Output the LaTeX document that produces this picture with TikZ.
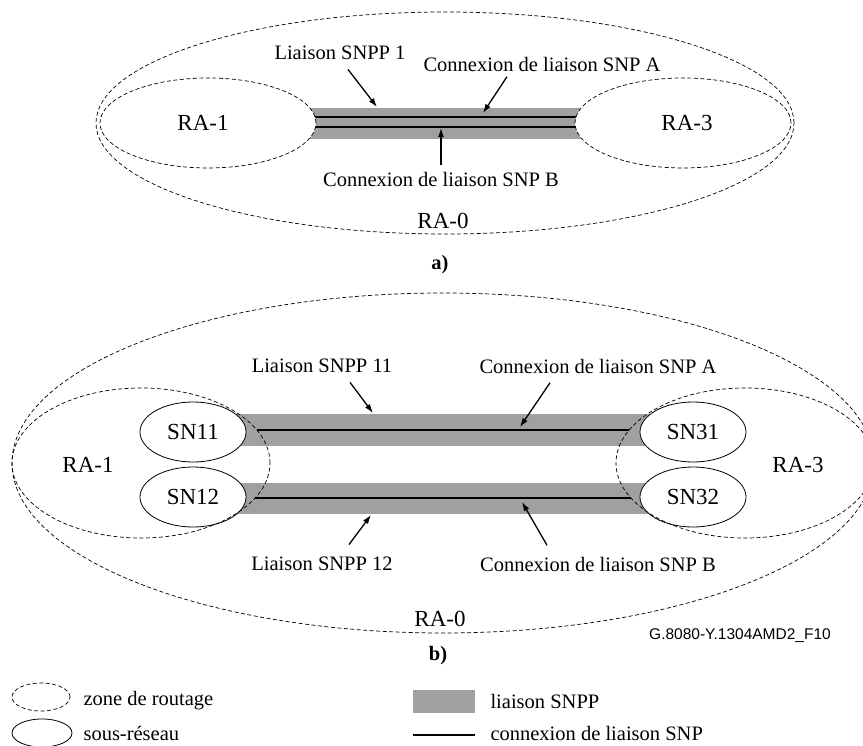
\documentclass[tikz,border=0pt]{standalone}
\usepackage{fontspec}
\setmainfont{Liberation Serif}
\setsansfont{Liberation Sans}
\usetikzlibrary{arrows.meta, shapes.geometric}
\definecolor{snppgray}{RGB}{160,160,160}

\begin{document}
\begin{tikzpicture}[x=1pt, y=-1pt,
  zone/.style={dash pattern=on 4pt off 2.5pt, line width=0.7pt},
  subnet/.style={draw, ellipse, line width=0.8pt, fill=white, inner sep=0pt,
    minimum width=106pt, minimum height=60pt, font=\fontsize{23}{26}\selectfont},
  lbl/.style={font=\fontsize{20.5}{24}\selectfont},
  ralbl/.style={font=\fontsize{23}{26}\selectfont},
  caption/.style={font=\bfseries\fontsize{20.5}{24}\selectfont},
  legtxt/.style={font=\fontsize{20.5}{24}\selectfont, anchor=west, inner ysep=0.5pt},
  arr/.style={-{Latex[length=9pt, width=6pt]}, line width=1.3pt},
  snpp/.style={fill=snppgray},
  snp/.style={line width=1.8pt}]
\useasboundingbox (0,0) rectangle (863,746);
\clip (0,0) rectangle (863,746);

% a)
\fill[snpp] (300,108) rectangle (590,139);
\draw[snp] (300,117) -- (590,117);
\draw[snp] (300,127) -- (590,127);
\draw[zone, fill=white] (208,123) ellipse [x radius=108pt, y radius=45pt];
\draw[zone, fill=white] (683,123) ellipse [x radius=108pt, y radius=45pt];
\draw[zone] (445,123) ellipse [x radius=349pt, y radius=111pt];
\node[ralbl] (ra1) at (203,123) {RA-1};
\node[ralbl] (ra3) at (687,123) {RA-3};
\node[ralbl] (ra0) at (443,221) {RA-0};
\node[lbl] (snpp1) at (340,53) {Liaison SNPP 1};
\node[lbl] (snpA) at (542,64) {Connexion de liaison SNP A};
\node[lbl] (snpB) at (441,179) {Connexion de liaison SNP B};
\coordinate (tsnpp1) at (377,107);
\coordinate (tsnpA) at (483,113);
\coordinate (tsnpB) at (441,128);
\draw[arr] ([xshift=8pt, yshift=-6pt]snpp1.south) -- (tsnpp1);
\draw[arr] ([xshift=-35pt, yshift=-2pt]snpA.south) -- (tsnpA);
\draw[arr] ([yshift=3pt]snpB.north) -- (tsnpB);
\node[caption] (capa) at (440,265) {a)};

% b)
\fill[snpp] (200,414) rectangle (686,446);
\fill[snpp] (200,483) rectangle (686,514);
\draw[snp] (257,430) -- (629,430);
\draw[snp] (255,498) -- (631,498);
\node[subnet] (sn11) at (193,432) {SN11};
\node[subnet] (sn12) at (193,497) {SN12};
\node[subnet] (sn31) at (693,432) {SN31};
\node[subnet] (sn32) at (693,497) {SN32};
\draw[zone] (141,463) ellipse [x radius=129pt, y radius=75pt];
\draw[zone] (745,463) ellipse [x radius=129pt, y radius=75pt];
\draw[zone] (443,463) ellipse [x radius=431pt, y radius=170pt];
\node[ralbl] (ra1b) at (88,465) {RA-1};
\node[ralbl] (ra3b) at (798,465) {RA-3};
\node[ralbl] (ra0b) at (440,619) {RA-0};
\node[lbl] (snpp11) at (322,366) {Liaison SNPP 11};
\node[lbl] (snpAb) at (598,366) {Connexion de liaison SNP A};
\node[lbl] (snpp12) at (322,564) {Liaison SNPP 12};
\node[lbl] (snpBb) at (598,564) {Connexion de liaison SNP B};
\coordinate (tsnpp11) at (373,413);
\coordinate (tsnpAb) at (520,427);
\coordinate (tsnpp12) at (371,515);
\coordinate (tsnpBb) at (522,502);
\draw[arr] ([xshift=28pt, yshift=-6pt]snpp11.south) -- (tsnpp11);
\draw[arr] ([xshift=-48pt, yshift=-6pt]snpAb.south) -- (tsnpAb);
\draw[arr] ([xshift=27pt, yshift=9pt]snpp12.north) -- (tsnpp12);
\draw[arr] ([xshift=-51pt, yshift=8pt]snpBb.north) -- (tsnpBb);
\node[font=\sffamily\fontsize{15.5}{18}\selectfont] (figid) at (740,636) {G.8080-Y.1304AMD2\_F10};
\node[caption] (capb) at (438,656) {b)};

% legende
\draw[zone] (41,697) ellipse [x radius=29pt, y radius=14pt];
\node[legtxt] (lgzone) at (80,701) {zone de routage};
\draw[line width=0.8pt] (42,733) ellipse [x radius=30pt, y radius=14pt];
\node[legtxt] (lgsn) at (80,733) {sous-réseau};
\fill[snpp] (413,690) rectangle (475,713);
\node[legtxt] (lgsnpp) at (487,701) {liaison SNPP};
\draw[snp] (413,735) -- (475,735);
\node[legtxt] (lgsnp) at (487,733) {connexion de liaison SNP};
\end{tikzpicture}
\end{document}
